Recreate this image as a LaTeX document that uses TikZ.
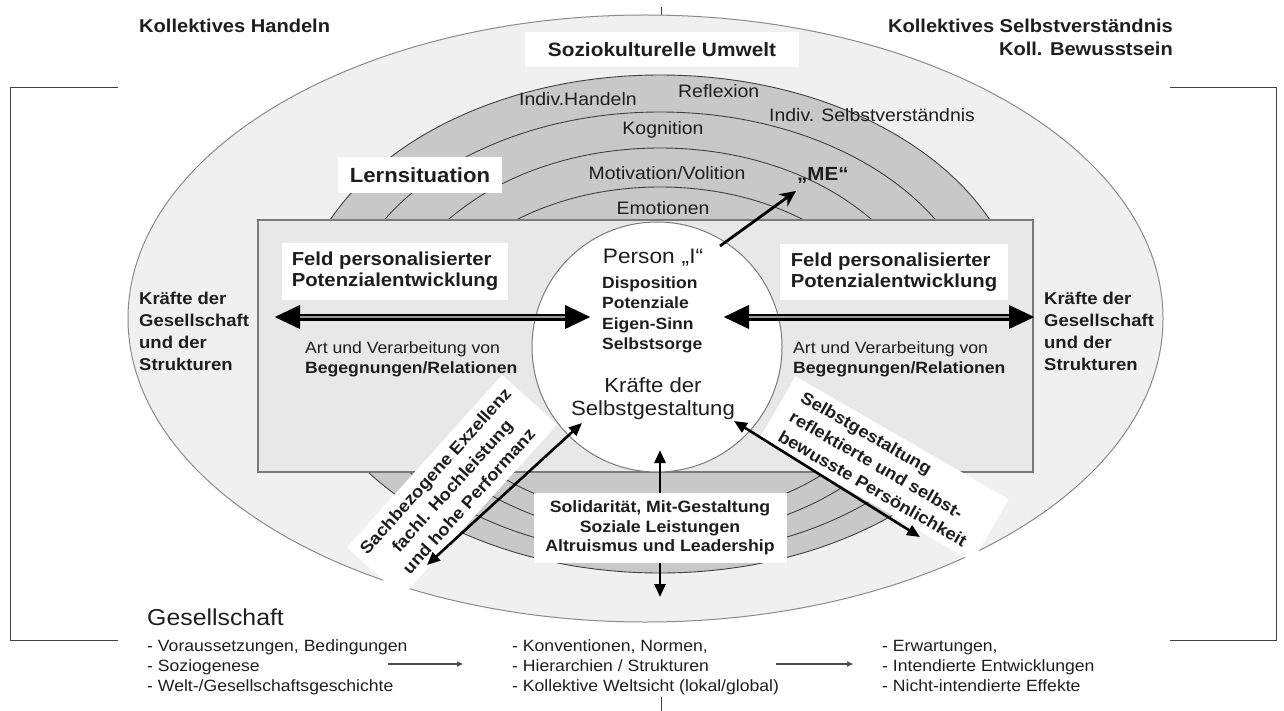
\documentclass[tikz,border=0pt]{standalone}
\usepackage{fontspec}
\setmainfont{Liberation Sans}[FakeStretch=1.08]
\usetikzlibrary{arrows.meta}
\definecolor{ellfill}{HTML}{F0F0F0}
\definecolor{ellline}{HTML}{8A8A8A}
\definecolor{ringfill}{HTML}{C8C8C8}
\definecolor{ringline}{HTML}{404040}
\definecolor{rectfill}{HTML}{E8E8E8}
\definecolor{rectline}{HTML}{7A7A7A}
\definecolor{txt}{HTML}{1E1E1E}
\definecolor{shaft}{HTML}{9A9A9A}
\begin{document}
\begin{tikzpicture}[x=1pt,y=-1pt,
  every node/.style={inner sep=0pt, text=txt},
  hdr/.style={font=\fontsize{18.6}{22}\selectfont\bfseries},
  ringlbl/.style={font=\fontsize{18}{21}\selectfont},
  whitebox/.style={fill=white, draw=none},
  feld/.style={font=\fontsize{18.8}{21}\selectfont\bfseries},
  dispo/.style={font=\fontsize{16.2}{20}\selectfont\bfseries, anchor=base west},
  selbst/.style={font=\fontsize{20.5}{24}\selectfont, anchor=base},
  artreg/.style={font=\fontsize{16.3}{20}\selectfont, anchor=base west},
  artbold/.style={font=\fontsize{16.3}{20}\selectfont\bfseries, anchor=base west},
  kraefte/.style={font=\fontsize{17.1}{22}\selectfont\bfseries, anchor=base west},
  listtxt/.style={font=\fontsize{16.3}{20}\selectfont, anchor=base west},
  rotbox/.style={fill=white, font=\fontsize{17}{22.5}\selectfont\bfseries},
  bracket/.style={draw=black!75, line width=1},
  fatarrow/.style={line width=7, draw=black, {Triangle[length=26pt,width=22pt]}-{Triangle[length=26pt,width=22pt]}},
  fatshaft/.style={line width=2.5, draw=shaft, shorten <=26pt, shorten >=26pt},
  arr/.style={line width=2.6, draw=black, -{Triangle[length=13pt,width=11pt]}},
  darr/.style={line width=2.6, draw=black, {Triangle[length=13pt,width=11pt]}-{Triangle[length=13pt,width=11pt]}},
  mearr/.style={line width=2.8, draw=black, -{Stealth[length=16pt,width=15pt]}},
  smallarr/.style={line width=1.4, draw=black!70, -{Triangle[length=6pt,width=5pt]}}
]
\useasboundingbox (0,0) rectangle (1284,711);

% side brackets and ticks
\draw[bracket] (118,88) -- (10,88) -- (10,640) -- (118,640);
\draw[bracket] (1170,88) -- (1276,88) -- (1276,640) -- (1170,640);
\draw[bracket] (661,7) -- (661,15);
\draw[bracket] (661,697) -- (661,711);

% outer ellipse
\path[draw=ellline, fill=ellfill, line width=1] (645.5,318.5) ellipse [x radius=517.5pt, y radius=303.5pt];

% rings
\foreach \cy/\a/\b in {324/363/249, 333.5/321/221.5, 342.5/273/194.5, 352.5/240/165.5}
  \path[fill=ringfill, draw=ringline, line width=0.9] (660,\cy) ellipse [x radius=\a pt, y radius=\b pt];

% rectangle (field) and person circle
\node[draw=rectline, fill=rectfill, line width=1.3, minimum width=775, minimum height=252] (field) at (645.5,346) {};
\node[circle, draw=rectline, fill=white, line width=1, minimum size=250] (person) at (657,347) {};

% headers
\node[hdr, anchor=base west] (kh) at (139,33) {Kollektives Handeln};
\node[hdr, anchor=base east] (ks) at (1173,33) {Kollektives Selbstverständnis};
\node[hdr, anchor=base east] (kb) at (1173,56) {Koll. Bewusstsein};
\node[whitebox, font=\fontsize{19.3}{23}\selectfont\bfseries, minimum width=274, minimum height=35] (sozio) at (662,49.5) {Soziokulturelle Umwelt};

% ring labels
\node[ringlbl, anchor=base west] (ih) at (519,106) {Indiv.Handeln};
\node[ringlbl, anchor=base west] (refl) at (678,98) {Reflexion};
\node[ringlbl, anchor=base west] (isv) at (769,122) {Indiv. Selbstverständnis};
\node[ringlbl, anchor=base] (kog) at (663,135) {Kognition};
\node[ringlbl, anchor=base] (mot) at (667,180) {Motivation/Volition};
\node[ringlbl, anchor=base] (emo) at (663,215) {Emotionen};
\node[whitebox, font=\fontsize{20.5}{24}\selectfont\bfseries, minimum width=164, minimum height=36] (lernsit) at (420,175) {Lernsituation};
\node[font=\fontsize{19}{22}\selectfont\bfseries, anchor=base west] (me) at (797,181) {„ME“};

% person content
\node[font=\fontsize{21}{24}\selectfont, anchor=base] (pI) at (653,263) {Person\hspace{7pt}„I“};
\node[dispo] (d1) at (602,288) {Disposition};
\node[dispo] (d2) at (602,308) {Potenziale};
\node[dispo] (d3) at (602,329) {Eigen-Sinn};
\node[dispo] (d4) at (602,349) {Selbstsorge};
\node[selbst] (ks1) at (653,392) {Kräfte der};
\node[selbst] (ks2) at (653,415) {Selbstgestaltung};

% ME arrow
\coordinate (meS) at (720,246);
\coordinate (meE) at (796,191);
\draw[mearr] (meS) -- (meE);

% field boxes
\node[whitebox, feld, minimum width=226, minimum height=57, align=left] (feldL) at (395,271.5) {Feld personalisierter\\Potenzialentwicklung};
\node[whitebox, feld, minimum width=228, minimum height=56, align=left] (feldR) at (894,272) {Feld personalisierter\\Potenzialentwicklung};

% horizontal double arrows
\coordinate (lA) at (274,317);
\coordinate (lB) at (591,317);
\coordinate (rA) at (723,317);
\coordinate (rB) at (1035,317);
\draw[fatarrow] (lA) -- (lB);
\draw[fatshaft] (lA) -- (lB);
\draw[fatarrow] (rA) -- (rB);
\draw[fatshaft] (rA) -- (rB);

\node[artreg] (artL) at (305,353) {Art und Verarbeitung von};
\node[artbold] (begL) at (305,373) {Begegnungen/Relationen};
\node[artreg] (artR) at (793,353) {Art und Verarbeitung von};
\node[artbold] (begR) at (793,373) {Begegnungen/Relationen};

% forces of society
\node[kraefte] (kl1) at (139,304) {Kräfte der};
\node[kraefte] (kl2) at (139,326) {Gesellschaft};
\node[kraefte] (kl3) at (139,348) {und der};
\node[kraefte] (kl4) at (139,370) {Strukturen};
\node[kraefte] (kr1) at (1044,304) {Kräfte der};
\node[kraefte] (kr2) at (1044,326) {Gesellschaft};
\node[kraefte] (kr3) at (1044,348) {und der};
\node[kraefte] (kr4) at (1044,370) {Strukturen};

% rotated boxes
\node[rotbox, rotate=48, minimum width=232, minimum height=74, align=center] (sach) at (452,486) {Sachbezogene Exzellenz\\fachl. Hochleistung\\und hohe Performanz};
\node[rotbox, rotate=-30, minimum width=246, minimum height=72, align=left] (refl2) at (884,469) {Selbstgestaltung\\reflektierte und selbst-\\bewusste Persönlichkeit};

% solidarity box
\node[whitebox, font=\fontsize{16.4}{19.5}\selectfont\bfseries, minimum width=253, minimum height=70, align=center] (soli) at (660,528) {Solidarität, Mit-Gestaltung\\Soziale Leistungen\\Altruismus und Leadership};

% diagonal and vertical arrows
\coordinate (sA) at (427,565);
\coordinate (sB) at (582,423);
\coordinate (pA) at (734,421);
\coordinate (pB) at (920,537);
\coordinate (upE) at (660,450);
\coordinate (dnE) at (660,597);
\draw[darr] (sA) -- (sB);
\draw[darr] (pA) -- (pB);
\draw[arr] (soli.north) -- (upE);
\draw[arr] (soli.south) -- (dnE);

% society text
\node[font=\fontsize{23}{27}\selectfont, anchor=base west] (ges) at (147,625) {Gesellschaft};
\node[listtxt] (c11) at (147,651) {- Voraussetzungen, Bedingungen};
\node[listtxt] (c12) at (147,671) {- Soziogenese};
\node[listtxt] (c13) at (147,691) {- Welt-/Gesellschaftsgeschichte};
\node[listtxt] (c21) at (512,651) {- Konventionen, Normen,};
\node[listtxt] (c22) at (512,671) {- Hierarchien / Strukturen};
\node[listtxt] (c23) at (512,691) {- Kollektive Weltsicht (lokal/global)};
\node[listtxt] (c31) at (882,651) {- Erwartungen,};
\node[listtxt] (c32) at (882,671) {- Intendierte Entwicklungen};
\node[listtxt] (c33) at (882,691) {- Nicht-intendierte Effekte};
\coordinate (a1s) at (388,664);
\coordinate (a1e) at (463,664);
\coordinate (a2s) at (776,664);
\coordinate (a2e) at (853,664);
\draw[smallarr] (a1s) -- (a1e);
\draw[smallarr] (a2s) -- (a2e);
\end{tikzpicture}
\end{document}
